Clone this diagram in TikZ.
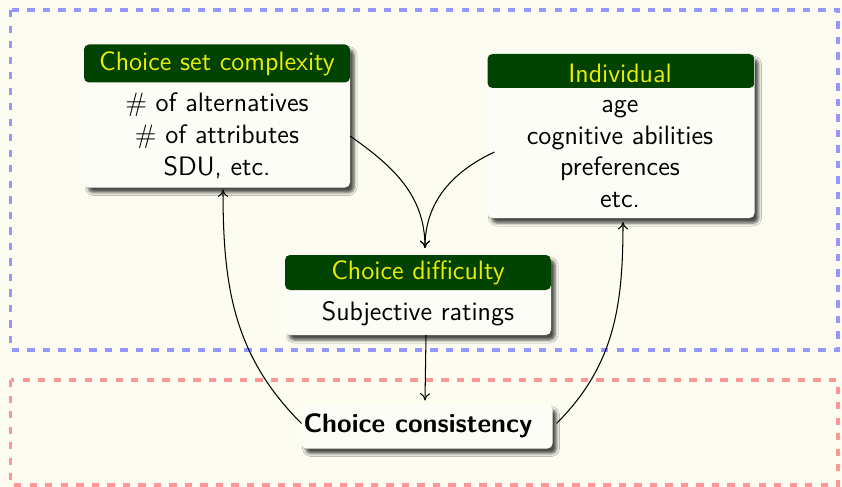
\documentclass[tikz,border=0pt]{standalone}
\usetikzlibrary{shadows.blur,arrows.meta}
\definecolor{pagebg}{RGB}{252,252,241}
\definecolor{bodybg}{RGB}{253,253,248}
\definecolor{hdrgreen}{RGB}{0,66,0}
\definecolor{hdrtext}{RGB}{236,236,0}
\definecolor{zoneblue}{RGB}{150,150,255}
\definecolor{zonered}{RGB}{255,150,150}
\newlength\pxl
\setlength\pxl{0.432pt}
\newcommand\blockfont{\sffamily\fontsize{11.5}{13.8}\selectfont}
\tikzset{
  blockframe/.style={rectangle, rounded corners=5\pxl, fill=bodybg, inner sep=0pt, outer sep=0pt,
    blur shadow={shadow xshift=4\pxl, shadow yshift=-5\pxl, shadow blur radius=3\pxl, shadow opacity=70}},
  withheader/.style={
    path picture={\fill[hdrgreen] (path picture bounding box.north west) rectangle
      ([yshift=-#1\pxl]path picture bounding box.north east);}},
  hdrlabel/.style={text=hdrtext, font=\blockfont, inner sep=0pt},
  bodylabel/.style={text=black, align=center, font=\blockfont, inner sep=0pt},
  zone/.style={line width=1.6pt, dash pattern=on 3.2pt off 3.5pt},
  conn/.style={-{To[length=3.2pt,width=4.4pt]}, line width=0.45pt}
}
\begin{document}
\begin{tikzpicture}[x=\pxl, y=-\pxl]
  \useasboundingbox (0,0) rectangle (842,487);
  \fill[pagebg] (0,0) rectangle (842,487);

  % dashed zones
  \draw[zone, draw=zoneblue] (10.5,10) rectangle (838,350);
  \draw[zone, draw=zonered] (10.5,380) rectangle (838,485);

  % block frames
  \node[blockframe, withheader=38, minimum width=266\pxl, minimum height=143\pxl] (f1) at (217,116) {};
  \node[blockframe, withheader=34, minimum width=267\pxl, minimum height=164\pxl] (f2) at (621,136) {};
  \node[blockframe, withheader=35, minimum width=266\pxl, minimum height=80\pxl] (f3) at (418,295) {};
  \node[blockframe, minimum width=251\pxl, minimum height=44\pxl] (f4) at (427,426.5) {};

  % headers
  \node[hdrlabel] (h1) at (217,63.5) {Choice set complexity};
  \node[hdrlabel] (h2) at (620,73) {Individual};
  \node[hdrlabel] (h3) at (418,273) {Choice difficulty};

  % bodies
  \node[bodylabel] (t1) at (217,136) {\# of alternatives\\\# of attributes\\SDU, etc.};
  \node[bodylabel] (t2) at (620,154) {age\\cognitive abilities\\preferences\\etc.};
  \node[bodylabel] (t3) at (418,314) {Subjective ratings};
  \node[bodylabel, font=\blockfont\bfseries] (t4) at (418,426) {Choice consistency};

  % connectors
  \draw[conn] ([yshift=-20\pxl]f1.east) to[out=-35, in=90] ([xshift=7\pxl, yshift=7\pxl]f3.north);
  \draw[conn] ([xshift=7\pxl, yshift=-16\pxl]f2.west) to[out=-155, in=90] ([xshift=7\pxl, yshift=7\pxl]f3.north);
  \draw[conn] ([xshift=8\pxl]f3.south) -- ([xshift=-2\pxl, yshift=4\pxl]f4.north);
  \draw[conn] ([yshift=3\pxl]f4.west) to[out=135, in=-90] ([xshift=6\pxl, yshift=-2\pxl]f1.south);
  \draw[conn] ([xshift=4\pxl, yshift=3\pxl]f4.east) to[out=45, in=-90] ([xshift=2\pxl, yshift=-4\pxl]f2.south);
\end{tikzpicture}
\end{document}
